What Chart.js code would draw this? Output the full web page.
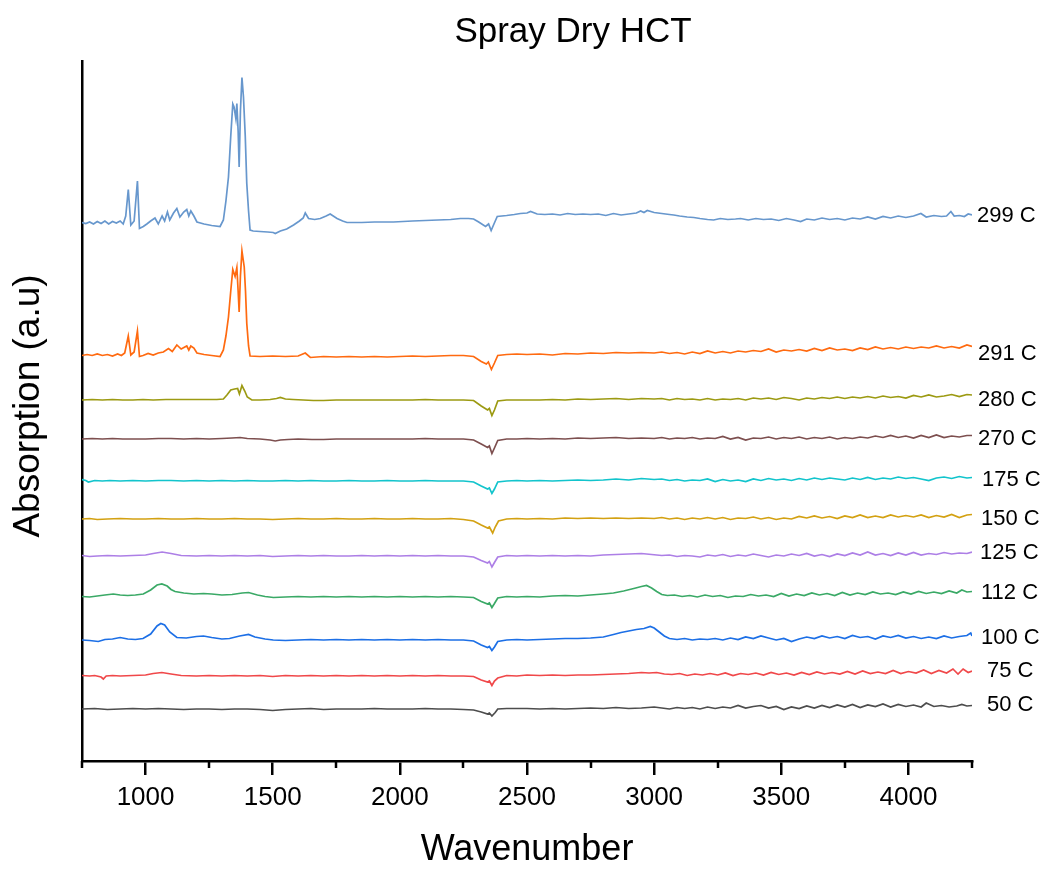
<!DOCTYPE html>
<html>
<head>
<meta charset="utf-8">
<script src="https://cdn.jsdelivr.net/npm/chart.js@4.4.1/dist/chart.umd.min.js"></script>
<style>
  html, body { margin: 0; padding: 0; background: #ffffff; }
  #wrap { width: 1049px; height: 869px; position: relative; }
</style>
</head>
<body>
<div id="wrap"><canvas id="c"></canvas></div>
<script>
// ---------- DATA (wavenumber, absorption a.u. offset-stacked) ----------
const chartTitle = 'Spray Dry HCT';
const xTitle = 'Wavenumber';
const yTitle = 'Absorption (a.u)';
const xMajorTicks = [1000, 1500, 2000, 2500, 3000, 3500, 4000];
const xMinorTicks = [750, 1250, 1750, 2250, 2750, 3250, 3750, 4250];
const seriesLabels = ['299 C', '291 C', '280 C', '270 C', '175 C', '150 C', '125 C', '112 C', '100 C', '75 C', '50 C'];

const s299 = [[750,538.5],[765,537.5],[780,539],[795,537],[810,539.5],[825,537.5],[840,540],[855,537],[870,539.5],[885,538],[900,540],[912,537],[922,545],[932,571.5],[942,536],[955,540],[968,580],[976,532.5],[991,534.5],[1005,537],[1020,540],[1037,543],[1050,537],[1065,545],[1075,540],[1086,549],[1095,541],[1110,548],[1123,552.5],[1135,544],[1150,549],[1162,551.5],[1170,545],[1178,550],[1190,545],[1202,539],[1230,537],[1260,535.5],[1293,534.5],[1306,541],[1316,560],[1326,584],[1335,625],[1343,657],[1348,654],[1355,642.5],[1359,657.5],[1364,630],[1368,594],[1373,650],[1379,683.5],[1385,664],[1392,625],[1398,577.5],[1405,550],[1411,531],[1423,530],[1450,529.5],[1480,529],[1502,528.5],[1510,527.5],[1530,530],[1555,532],[1582,536],[1605,540],[1620,543],[1628,548],[1641,542.5],[1665,541.5],[1687,542.5],[1710,545],[1726,547],[1753,542.5],[1775,540],[1792,538.5],[1850,538.5],[1900,539],[1975,539],[2050,540],[2100,540.5],[2150,541],[2200,541.5],[2238,542.5],[2270,542.5],[2290,542],[2310,539],[2337,534.5],[2349,537],[2359,530.5],[2370,537],[2383,544.5],[2420,545.5],[2450,546.5],[2474,547.5],[2500,548],[2514,549.5],[2540,547],[2570,546.5],[2600,547],[2630,546],[2660,547.5],[2690,546.5],[2720,547],[2750,546.5],[2780,547],[2810,545.5],[2840,547.5],[2870,546],[2900,547],[2930,548],[2947,550],[2960,548.5],[2973,550.5],[3000,548.5],[3030,547.5],[3060,546.5],[3077,546],[3100,545],[3130,544],[3156,543.5],[3180,542.5],[3210,541.5],[3234,541],[3260,542.5],[3290,541.5],[3320,542],[3340,542.5],[3370,541],[3400,542.5],[3430,541.5],[3460,542],[3490,540.5],[3520,542.5],[3550,541],[3576,539.5],[3600,542],[3630,541],[3660,543],[3690,541.5],[3720,542.5],[3750,541],[3780,543],[3810,542],[3840,544],[3870,542],[3900,544.5],[3930,543],[3960,545],[3990,543.5],[4020,545],[4049,547.5],[4070,544],[4100,545.5],[4130,544.5],[4150,545],[4167,549.5],[4180,545],[4200,545.5],[4220,544.5],[4235,547],[4250,546]];

const s291 = [[750,405.5],[770,406.5],[790,405.5],[810,407],[830,405.5],[850,406.5],[870,405],[890,407],[905,405.5],[918,408],[932,425],[942,406],[955,409],[968,430],[976,404.5],[990,405.5],[1010,407.5],[1030,406],[1050,408],[1070,409],[1090,412.5],[1105,409.5],[1123,416],[1140,412],[1162,415],[1170,411],[1178,415],[1190,413],[1202,408],[1230,406.5],[1260,405.5],[1293,404.5],[1306,411],[1316,425],[1326,444],[1335,470],[1343,491.5],[1352,484.5],[1359,493.5],[1364,470],[1368,449],[1373,485],[1379,510],[1388,494],[1393,470],[1398,437.5],[1405,415],[1411,405],[1450,404.5],[1500,405],[1550,404.5],[1600,405],[1628,408],[1648,403.5],[1700,404.5],[1750,404],[1800,404.5],[1850,404],[1900,404.5],[1950,404],[2000,404.5],[2050,405],[2100,404.5],[2150,405],[2200,405.5],[2250,405.5],[2290,404.5],[2320,399.5],[2340,397],[2348,399],[2360,391.5],[2372,398],[2385,405.5],[2420,406.5],[2460,407],[2500,406.5],[2550,407],[2600,406],[2650,407.5],[2700,407],[2750,408],[2800,407.5],[2850,408.5],[2900,408],[2950,408.5],[3000,408],[3030,409],[3060,407.5],[3090,408.5],[3120,407],[3150,409],[3180,407.5],[3210,410],[3240,408],[3270,409.5],[3300,408],[3330,410],[3360,409],[3390,410.5],[3420,409.5],[3450,412],[3480,409],[3510,411],[3540,410],[3570,411.5],[3600,410],[3630,412.5],[3660,410.5],[3690,413],[3720,411],[3750,412],[3780,410.5],[3810,413],[3840,411.5],[3870,414],[3900,412],[3930,413.5],[3960,412],[3990,414],[4020,412.5],[4050,414],[4080,413],[4110,415],[4140,413],[4170,414.5],[4200,413],[4230,416],[4250,414.5]];

const s280 = [[750,361],[790,361.5],[830,361],[870,361.5],[910,361],[950,361],[990,361.5],[1030,361],[1080,361.5],[1130,361.5],[1180,361.5],[1230,361.5],[1280,361.5],[1306,362],[1320,366],[1335,371],[1350,372],[1362,372.5],[1369,367],[1379,375.5],[1390,370],[1400,364],[1418,361],[1450,361],[1490,361.5],[1515,362.5],[1530,363.5],[1550,362],[1580,361.5],[1620,361],[1660,360.5],[1700,360.5],[1750,361],[1800,361],[1850,361],[1900,361],[1950,361],[2000,361],[2050,361],[2100,361.5],[2150,361],[2200,361],[2250,361],[2290,360.5],[2320,355],[2345,351],[2352,352.5],[2362,345.5],[2372,351],[2385,360],[2420,361],[2460,361],[2500,361],[2550,361],[2600,361.5],[2650,361],[2700,362],[2750,361.5],[2800,362],[2850,362.5],[2900,361.5],[2950,362.5],[3000,362],[3030,362.5],[3060,361],[3090,362.5],[3120,361.5],[3150,362],[3180,361],[3210,362.5],[3240,361],[3270,362],[3300,361.5],[3330,362.5],[3360,361],[3390,363],[3420,362],[3450,363],[3480,361.5],[3510,363.5],[3540,362.5],[3570,361],[3600,363],[3630,362],[3660,363.5],[3690,362.5],[3720,364],[3750,362.5],[3780,364],[3810,363],[3840,364.5],[3870,363],[3900,365],[3930,363.5],[3960,364.5],[3990,363],[4020,365.5],[4050,364],[4080,366],[4110,364],[4140,365],[4170,366.5],[4200,364.5],[4230,366.5],[4250,366]];

const s270 = [[750,322],[790,322.5],[830,322],[870,322.5],[910,322],[950,322],[1000,322],[1050,322.5],[1100,322.5],[1150,322],[1200,322.5],[1250,322],[1300,322.5],[1340,323],[1372,323.5],[1400,322.5],[1450,322],[1490,321],[1510,320],[1530,321],[1560,321.5],[1600,322],[1654,321.5],[1700,321.5],[1750,322],[1800,322],[1850,322],[1900,322],[1950,322],[2000,322],[2050,322],[2100,322.5],[2150,322],[2200,322],[2250,322],[2290,321],[2320,317],[2345,313.5],[2352,315],[2362,307.5],[2372,313],[2385,320.5],[2420,322],[2460,322],[2500,322.5],[2550,322],[2600,322.5],[2650,322],[2700,323],[2750,322.5],[2800,323],[2850,323.5],[2900,322.5],[2950,323],[3000,322.5],[3030,323.5],[3060,322],[3090,323],[3120,322.5],[3150,323.5],[3180,322],[3210,323],[3240,322.5],[3270,324.5],[3300,322],[3330,323.5],[3360,321],[3390,323],[3420,322.5],[3450,324],[3480,322],[3510,323.5],[3540,322.5],[3570,324],[3600,322],[3630,323.5],[3660,322.5],[3690,324],[3720,322],[3750,323.5],[3780,322.5],[3810,324],[3840,323],[3870,325],[3900,323.5],[3930,325.5],[3960,323.5],[3990,325],[4020,323],[4050,325.5],[4080,323.5],[4110,326],[4140,323.5],[4170,325],[4200,324],[4230,325.5],[4250,325.5]];

const s175 = [[750,281.5],[765,280.5],[775,279],[800,280.5],[830,280],[860,280.5],[900,280],[950,280.5],[1000,280],[1050,280.5],[1100,280.5],[1150,280],[1200,280.5],[1250,280],[1300,280.5],[1350,280],[1400,280.5],[1450,280],[1500,280],[1550,280.5],[1600,280],[1650,280.5],[1700,280],[1750,280],[1800,280.5],[1850,280],[1900,280],[1950,280.5],[2000,280],[2050,280],[2100,280.5],[2150,280],[2200,280],[2250,280],[2290,279],[2320,275],[2345,272],[2352,273],[2362,267.5],[2372,272],[2385,279],[2420,280],[2460,280.5],[2500,280],[2550,280.5],[2600,280],[2650,280.5],[2700,281],[2750,280.5],[2800,281],[2850,282],[2900,281],[2950,282.5],[3000,281.5],[3030,282],[3060,280.5],[3090,281.5],[3120,280],[3150,281],[3180,280.5],[3210,282],[3240,279.5],[3270,281.5],[3300,280],[3330,281],[3360,279.5],[3390,282],[3420,280.5],[3450,282.5],[3480,281],[3510,282],[3540,280.5],[3570,282.5],[3600,281],[3630,283],[3660,281.5],[3690,283],[3720,282],[3750,281],[3780,283],[3810,281.5],[3840,283.5],[3870,281.5],[3900,283],[3930,282],[3960,284],[3990,282.5],[4020,283.5],[4050,282],[4080,280.5],[4110,283],[4140,284],[4170,282.5],[4200,284.5],[4230,283],[4250,283.5]];

const s150 = [[750,242],[780,242.5],[810,241.5],[850,242],[900,242.5],[950,242],[1000,242],[1050,242.5],[1100,242],[1150,242],[1200,242.5],[1250,242],[1300,242],[1350,242.5],[1400,242],[1450,242],[1500,241.5],[1550,242],[1600,242.5],[1650,242],[1700,242],[1750,242.5],[1800,242],[1850,242],[1900,242.5],[1950,242],[2000,242],[2050,242.5],[2100,242],[2150,242],[2200,242.5],[2250,241.5],[2290,240],[2320,236],[2345,233],[2352,234],[2365,228],[2375,234],[2388,240],[2420,242],[2460,242.5],[2500,242],[2550,242.5],[2600,242],[2650,243],[2700,242.5],[2750,243],[2800,242.5],[2850,243],[2900,242.5],[2950,243],[3000,242.5],[3030,243.5],[3060,242],[3090,243],[3120,241.5],[3150,243],[3180,242],[3210,243.5],[3240,242],[3270,243.5],[3300,241.5],[3330,243],[3360,242.5],[3390,244],[3420,242],[3450,243.5],[3480,241.5],[3510,243],[3540,242],[3570,244.5],[3600,243],[3630,245],[3660,243],[3690,244.5],[3720,242.5],[3750,245],[3780,243.5],[3810,246],[3840,243.5],[3870,245],[3900,243.5],[3930,246],[3960,244],[3990,245.5],[4020,244],[4050,246],[4080,243.5],[4110,245.5],[4140,244],[4170,246.5],[4200,243.5],[4230,246],[4250,246.5]];

const s125 = [[750,205.5],[780,204.5],[810,205],[850,205.5],[900,205],[950,205.5],[1000,206],[1030,207.5],[1065,209],[1100,207.5],[1140,205.5],[1200,205],[1250,205.5],[1300,205],[1350,205.5],[1400,205],[1450,205.5],[1500,204.5],[1550,205],[1600,205.5],[1650,205],[1700,205.5],[1750,205],[1800,205],[1850,205.5],[1900,205],[1950,205.5],[2000,205],[2050,205.5],[2100,205],[2150,205.5],[2200,205],[2250,205],[2290,204],[2320,200.5],[2345,198],[2352,199.5],[2362,194],[2372,198.5],[2385,204],[2420,205.5],[2460,205],[2500,205.5],[2550,205],[2600,205.5],[2650,205],[2700,205.5],[2750,205],[2800,206],[2850,206.5],[2900,207],[2950,207.5],[2990,206.5],[3030,205.5],[3060,206],[3090,204.5],[3120,205.5],[3150,205],[3180,204],[3210,206],[3240,205],[3270,206.5],[3300,204.5],[3330,206],[3360,205],[3390,207],[3420,205.5],[3450,204],[3480,206],[3510,205],[3540,207],[3570,205.5],[3600,207.5],[3630,205],[3660,206.5],[3690,204.5],[3720,207],[3750,205.5],[3780,208],[3810,206],[3840,209],[3870,206],[3900,207.5],[3930,205.5],[3960,208],[3990,206],[4020,208.5],[4050,206],[4080,207.5],[4110,206.5],[4140,208.5],[4170,207],[4200,208],[4230,207.5],[4250,209]];

const s112 = [[750,164.5],[780,164],[810,165],[840,166],[873,167],[900,166],[930,165.5],[960,166],[991,167],[1020,171],[1045,176],[1064,177],[1085,175],[1100,171.5],[1116,169.5],[1150,168],[1190,167],[1228,167.5],[1260,167],[1300,166],[1340,166.5],[1380,168],[1405,168.5],[1440,166],[1470,164.5],[1503,163.5],[1550,164],[1600,164.5],[1650,164],[1700,164.5],[1750,164],[1800,164.5],[1850,164],[1900,164.5],[1950,164],[2000,164.5],[2050,164],[2100,164.5],[2150,164],[2200,164.5],[2250,164],[2290,163.5],[2320,159.5],[2345,157],[2352,158],[2362,153.5],[2372,157.5],[2385,163],[2420,164.5],[2460,164],[2500,164.5],[2550,164],[2600,165],[2650,165.5],[2700,165],[2750,166],[2800,167],[2840,168],[2880,170],[2920,172.5],[2950,174.5],[2970,175.5],[2990,173],[3010,169.5],[3030,166.5],[3052,165.5],[3080,166],[3110,164.5],[3140,165.5],[3170,164],[3200,166],[3230,164.5],[3260,165.5],[3290,163.5],[3320,165],[3350,164.5],[3380,166.5],[3410,165],[3440,166],[3470,164.5],[3500,167.5],[3530,165],[3560,167],[3590,165.5],[3620,168],[3650,166],[3680,167.5],[3710,165.5],[3740,168.5],[3770,166],[3800,168],[3830,166.5],[3860,169],[3890,167],[3920,168],[3950,166.5],[3980,169],[4010,167],[4040,169.5],[4070,167.5],[4100,169],[4130,167.5],[4160,170],[4190,168],[4210,171],[4230,169],[4250,169.5]];

const s100 = [[750,121],[780,120.5],[814,119.5],[840,121.5],[870,122],[900,123.5],[930,122],[960,121.5],[990,122.5],[1020,127],[1045,135],[1060,137.5],[1075,136],[1095,129],[1123,123.5],[1160,123],[1200,124.5],[1228,125],[1260,123.5],[1300,122],[1330,122.5],[1370,125],[1405,126.5],[1430,124],[1470,122],[1502,121],[1550,120.5],[1600,121],[1650,121.5],[1700,121],[1750,121.5],[1800,121],[1850,121.5],[1900,121],[1950,121.5],[2000,121],[2050,121.5],[2100,121],[2150,121.5],[2200,121],[2250,121],[2290,120],[2320,116],[2345,113.5],[2352,114.5],[2362,110.5],[2372,114],[2385,119.5],[2420,121],[2460,121.5],[2500,121],[2550,121.5],[2600,122],[2650,122.5],[2700,122.5],[2750,123],[2800,124],[2840,126.5],[2870,128.5],[2900,130],[2930,131.5],[2960,132.5],[2985,134.5],[3000,133],[3020,129],[3040,125],[3060,122.5],[3090,121.5],[3120,122.5],[3150,121],[3180,122],[3210,121.5],[3240,122.5],[3270,121],[3300,123],[3330,121.5],[3360,124],[3390,122.5],[3420,125],[3450,123],[3480,121],[3510,122.5],[3540,119.5],[3570,122],[3600,124],[3630,122.5],[3660,125],[3690,123],[3720,124.5],[3750,122.5],[3780,125.5],[3810,123.5],[3840,124.5],[3870,122],[3900,125],[3930,123.5],[3960,125.5],[3990,123],[4020,124.5],[4050,122.5],[4080,124],[4110,122.5],[4140,125],[4170,123],[4200,124.5],[4230,125.5],[4245,128],[4250,125]];

const s75 = [[750,85.5],[780,85],[800,85.5],[825,84],[834,82],[845,85],[870,85.5],[900,85],[950,85.5],[1000,86],[1030,87.5],[1064,88.5],[1100,87],[1140,85.5],[1200,85],[1250,85.5],[1300,85],[1350,85.5],[1400,85],[1450,85.5],[1500,84.5],[1550,85.5],[1600,85],[1650,85.5],[1700,85],[1750,85.5],[1800,85],[1850,85.5],[1900,85],[1950,85.5],[2000,85],[2050,85.5],[2100,85],[2150,85.5],[2200,85],[2250,85],[2290,84.5],[2320,81],[2345,79],[2352,80],[2362,75.5],[2372,80],[2385,83],[2420,85.5],[2460,85],[2500,86],[2550,85.5],[2600,86],[2650,85.5],[2700,86],[2750,86],[2800,86.5],[2850,87],[2900,87.5],[2950,88.5],[2980,88],[3010,88.5],[3040,87],[3070,86.5],[3100,87.5],[3130,85.5],[3160,87],[3190,86],[3220,87.5],[3250,86],[3280,88],[3310,85.5],[3340,87.5],[3370,86.5],[3400,88],[3430,86],[3460,88.5],[3490,86.5],[3520,88],[3550,86],[3580,88.5],[3610,86.5],[3640,89],[3670,87],[3700,88.5],[3730,87],[3760,89.5],[3790,87],[3820,90],[3850,87.5],[3880,89],[3910,87.5],[3940,90.5],[3970,87.5],[4000,89.5],[4030,88],[4060,91],[4090,87.5],[4120,90.5],[4150,88],[4175,92],[4195,87],[4215,92],[4235,88.5],[4250,90]];

const s50 = [[750,52],[800,52.5],[850,51.5],[900,52],[950,52.5],[1000,52],[1050,52.5],[1100,52],[1150,51.5],[1200,52],[1250,52],[1300,51.5],[1350,52],[1400,52],[1450,51.5],[1500,50.5],[1550,51.5],[1600,52],[1650,52.5],[1700,51.5],[1750,52],[1800,52],[1850,52],[1900,52.5],[1950,52],[2000,52],[2050,52],[2100,52.5],[2150,52],[2200,52],[2250,51.5],[2290,51],[2320,49],[2345,47],[2352,48],[2362,45],[2375,48.5],[2385,52],[2420,52.5],[2500,52.5],[2550,52],[2600,52.5],[2650,52],[2700,52.5],[2750,53],[2800,52.5],[2850,53.5],[2900,52.5],[2950,53],[3000,54],[3030,53],[3060,52],[3090,53.5],[3120,52.5],[3150,53.5],[3180,52],[3210,54],[3240,52.5],[3270,54],[3300,53],[3330,55.5],[3360,53],[3390,54.5],[3420,55.5],[3450,53],[3480,54.5],[3510,51.5],[3540,54],[3570,52.5],[3600,55],[3630,53],[3660,55.5],[3690,53.5],[3720,56],[3750,54],[3780,56.5],[3810,53.5],[3840,56],[3870,54.5],[3900,57],[3930,54],[3960,56.5],[3990,54.5],[4020,56],[4050,54],[4070,58],[4100,54.5],[4130,55.5],[4160,54],[4190,55],[4210,56.5],[4230,55],[4250,55.5]];

const seriesData = [s299, s291, s280, s270, s175, s150, s125, s112, s100, s75, s50];

// ---------- STYLE ----------
const seriesColors = ['#6797cd', '#ff6a10', '#9c9a12', '#7d4f4f', '#12c4cc', '#d3a112', '#ad7fe6', '#3aa966', '#1c6fe6', '#f0484a', '#4d4d4d'];
const labelDx = [5, 6, 6, 6, 10, 9, 8, 9, 9, 15, 15];
const labelDy = [1, 7, 5, 3, 2, 4, 1, 1, 2, 0, -1];
const FONT = "'Liberation Sans', Arial, sans-serif";

const datasets = seriesData.map((arr, i) => ({
  label: seriesLabels[i],
  data: arr.map(p => ({ x: p[0], y: p[1] })),
  borderColor: seriesColors[i],
  backgroundColor: seriesColors[i],
  borderWidth: 1.7,
  pointRadius: 0,
  tension: 0,
  fill: false
}));

const decorPlugin = {
  id: 'decor',
  afterDraw(chart) {
    const ctx = chart.ctx;
    const xs = chart.scales.x, ys = chart.scales.y;
    const area = chart.chartArea;
    ctx.save();
    // minor ticks
    ctx.strokeStyle = '#000';
    ctx.lineWidth = 2.5;
    xMinorTicks.forEach(v => {
      const px = Math.round(xs.getPixelForValue(v));
      ctx.beginPath();
      ctx.moveTo(px, area.bottom);
      ctx.lineTo(px, area.bottom + 7);
      ctx.stroke();
    });
    // series labels
    ctx.fillStyle = '#000';
    ctx.font = '22px ' + FONT;
    ctx.textAlign = 'left';
    ctx.textBaseline = 'middle';
    chart.data.datasets.forEach((ds, i) => {
      const last = ds.data[ds.data.length - 1];
      const py = ys.getPixelForValue(last.y) + labelDy[i];
      ctx.fillText(ds.label, area.right + labelDx[i], py);
    });
    // chart title
    ctx.textAlign = 'center';
    ctx.font = '35px ' + FONT;
    ctx.fillText(chartTitle, 573, 32);
    // x title
    ctx.font = '36px ' + FONT;
    ctx.fillText(xTitle, (area.left + area.right) / 2, 850);
    // y title
    ctx.font = '37px ' + FONT;
    ctx.translate(29, 406);
    ctx.rotate(-Math.PI / 2);
    ctx.fillText(yTitle, 0, 0);
    ctx.restore();
  }
};

new Chart(document.getElementById('c'), {
  type: 'line',
  data: { datasets },
  plugins: [decorPlugin],
  options: {
    responsive: true,
    maintainAspectRatio: false,
    animation: false,
    layout: { padding: { top: 61, right: 77, left: 0, bottom: 0 } },
    plugins: { legend: { display: false }, tooltip: { enabled: false }, title: { display: false } },
    scales: {
      x: {
        type: 'linear',
        min: 750,
        max: 4250,
        afterBuildTicks(scale) { scale.ticks = xMajorTicks.map(v => ({ value: v })); },
        afterFit(scale) { scale.height = 108; },
        ticks: {
          callback: v => String(v),
          color: '#000',
          font: { family: FONT, size: 26 },
          padding: 7,
          maxRotation: 0
        },
        grid: { display: true, drawOnChartArea: false, drawTicks: true, tickLength: 14, color: '#000', lineWidth: 2.5 },
        border: { display: true, color: '#000', width: 2.5 }
      },
      y: {
        type: 'linear',
        min: 0,
        max: 700,
        afterFit(scale) { scale.width = 82; },
        ticks: { display: false },
        grid: { display: false },
        border: { display: true, color: '#000', width: 2.5 }
      }
    }
  }
});
</script>
</body>
</html>
